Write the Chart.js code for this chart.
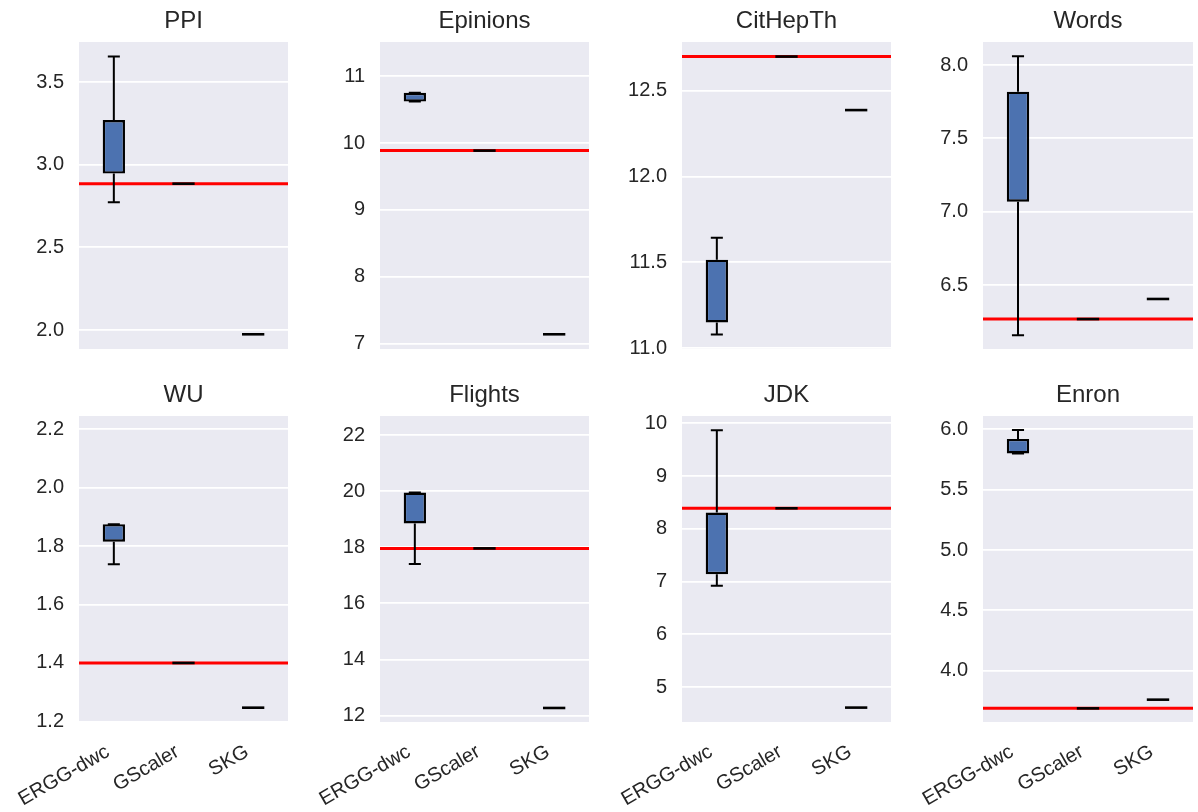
<!DOCTYPE html>
<html><head><meta charset="utf-8">
<script src="https://cdn.jsdelivr.net/npm/chart.js@4.4.0/dist/chart.umd.min.js"></script>
<style>
html,body{margin:0;padding:0;background:#fff;}
body{width:1198px;height:812px;position:relative;overflow:hidden;}
canvas{position:absolute;}
</style></head><body>
<script>
// ---- data ----
const panelTitles = ['PPI','Epinions','CitHepTh','Words','WU','Flights','JDK','Enron'];
const methods = ['ERGG-dwc','GScaler','SKG'];
// per panel: [ERGG-dwc, GScaler, SKG]
const whiskerLow  = [[2.772,2.885,1.974],[10.62,9.886,7.14],[11.08,12.70,12.388],[6.157,6.268,6.405],
                     [1.738,1.400,1.247],[17.40,17.96,12.27],[6.92,8.39,4.61],[5.80,3.688,3.76]];
const boxLow      = [[2.946,2.885,1.974],[10.62,9.886,7.14],[11.15,12.70,12.388],[7.068,6.268,6.405],
                     [1.815,1.400,1.247],[18.85,17.96,12.27],[7.14,8.39,4.61],[5.80,3.688,3.76]];
const boxHigh     = [[3.270,2.885,1.974],[10.75,9.886,7.14],[11.516,12.70,12.388],[7.818,6.268,6.405],
                     [1.875,1.400,1.247],[19.95,17.96,12.27],[8.31,8.39,4.61],[5.92,3.688,3.76]];
const whiskerHigh = [[3.655,2.885,1.974],[10.75,9.886,7.14],[11.644,12.70,12.388],[8.06,6.268,6.405],
                     [1.875,1.400,1.247],[19.95,17.96,12.27],[9.87,8.39,4.61],[5.995,3.688,3.76]];
const refValue    = [2.885, 9.886, 12.70, 6.268, 1.400, 17.96, 8.39, 3.688];
const yMin        = [1.885, 6.92, 10.995, 6.064, 1.198, 11.77, 4.337, 3.575];
const yMax        = [3.742, 11.51, 12.785, 8.157, 2.245, 22.68, 10.14, 6.11];
const yTickLabels = [['2.0','2.5','3.0','3.5'],['7','8','9','10','11'],['11.0','11.5','12.0','12.5'],
                     ['6.5','7.0','7.5','8.0'],['1.2','1.4','1.6','1.8','2.0','2.2'],
                     ['12','14','16','18','20','22'],['5','6','7','8','9','10'],['4.0','4.5','5.0','5.5','6.0']];

// ---- layout ----
const plotLeft  = [79, 380, 682, 983];
const plotRight = [288, 589, 891, 1193];
const Y_AXIS_W = 70, PAD_R = 4;
const rowTop = [0, 374], rowHeight = [377, 438], xAxisH = [28, 90];
const FONT = "'Liberation Sans', Arial, sans-serif";

const boxPlugin = {
  id: 'boxes',
  beforeDraw(chart) {
    const {ctx, chartArea: a} = chart;
    ctx.save();
    ctx.fillStyle = '#EAEAF2';
    ctx.fillRect(a.left, a.top, a.right - a.left, a.bottom - a.top);
    ctx.restore();
  },
  beforeDatasetsDraw(chart, args, opts) {
    const {ctx, chartArea: a} = chart;
    const y = chart.scales.y.getPixelForValue(refValue[opts.panel]);
    ctx.save();
    ctx.strokeStyle = '#FF0000';
    ctx.lineWidth = 3;
    ctx.beginPath(); ctx.moveTo(a.left, y); ctx.lineTo(a.right, y); ctx.stroke();
    ctx.restore();
  },
  afterDatasetsDraw(chart, args, opts) {
    const p = opts.panel;
    const {ctx} = chart;
    const ys = chart.scales.y;
    const meta = chart.getDatasetMeta(0);
    ctx.save();
    ctx.strokeStyle = '#000';
    meta.data.forEach((bar, k) => {
      const x = bar.x, w = bar.width;
      const yq1 = ys.getPixelForValue(boxLow[p][k]);
      const yq3 = ys.getPixelForValue(boxHigh[p][k]);
      const ywl = ys.getPixelForValue(whiskerLow[p][k]);
      const ywh = ys.getPixelForValue(whiskerHigh[p][k]);
      if (Math.abs(yq1 - yq3) < 0.5) {
        ctx.lineWidth = 2.6;
        ctx.beginPath(); ctx.moveTo(x - w/2, yq1); ctx.lineTo(x + w/2, yq1); ctx.stroke();
        return;
      }
      ctx.lineWidth = 2;
      const c = w * 0.27;
      ctx.beginPath();
      ctx.moveTo(x, yq3); ctx.lineTo(x, ywh);
      ctx.moveTo(x, yq1); ctx.lineTo(x, ywl);
      ctx.moveTo(x - c, ywh); ctx.lineTo(x + c, ywh);
      ctx.moveTo(x - c, ywl); ctx.lineTo(x + c, ywl);
      ctx.stroke();
    });
    ctx.restore();
  }
};

panelTitles.forEach((title, i) => {
  const row = Math.floor(i / 4), col = i % 4;
  const cv = document.createElement('canvas');
  const w = plotRight[col] - plotLeft[col] + Y_AXIS_W + PAD_R;
  const h = rowHeight[row];
  cv.width = w; cv.height = h;
  cv.style.width = w + 'px'; cv.style.height = h + 'px';
  cv.style.left = (plotLeft[col] - Y_AXIS_W) + 'px';
  cv.style.top = rowTop[row] + 'px';
  document.body.appendChild(cv);

  new Chart(cv, {
    type: 'bar',
    data: {
      labels: methods,
      datasets: [{
        data: methods.map((m, k) => [boxLow[i][k], boxHigh[i][k]]),
        backgroundColor: '#4C72B0',
        borderColor: '#000',
        borderWidth: 2.4,
        borderSkipped: false,
        barPercentage: 0.32,
        categoryPercentage: 1.0
      }]
    },
    options: {
      responsive: false,
      devicePixelRatio: 1,
      animation: false,
      layout: { padding: { left: 0, right: PAD_R, top: 0, bottom: 0 } },
      plugins: {
        legend: { display: false },
        tooltip: { enabled: false },
        title: {
          display: true, text: title, color: '#262626', fullSize: false,
          font: { family: FONT, size: 24, weight: 'normal', lineHeight: 1.2 },
          padding: { top: 7, bottom: 6.2 }
        },
        boxes: { panel: i }
      },
      scales: {
        x: {
          type: 'category',
          offset: true,
          grid: { display: false, drawTicks: false },
          border: { display: false },
          ticks: {
            display: row === 1, color: '#262626',
            font: { family: FONT, size: 20 },
            minRotation: 30, maxRotation: 30, padding: 18, labelOffset: -6
          },
          afterFit(s) { s.height = xAxisH[row]; s.paddingLeft = 0; s.paddingRight = 0; }
        },
        y: {
          type: 'linear',
          min: yMin[i], max: yMax[i],
          grid: { color: '#FFFFFF', lineWidth: 1.8, drawTicks: false },
          border: { display: false },
          ticks: {
            color: '#262626', font: { family: FONT, size: 20 }, padding: 15,
            callback: (v) => { const j = yTickLabels[i].findIndex(t => Math.abs(parseFloat(t) - v) < 1e-9); return j >= 0 ? yTickLabels[i][j] : ''; }
          },
          afterBuildTicks(s) { s.ticks = yTickLabels[i].map(t => ({ value: parseFloat(t) })); },
          afterFit(s) { s.width = Y_AXIS_W; }
        }
      }
    },
    plugins: [boxPlugin]
  });
});
</script>
</body></html>
